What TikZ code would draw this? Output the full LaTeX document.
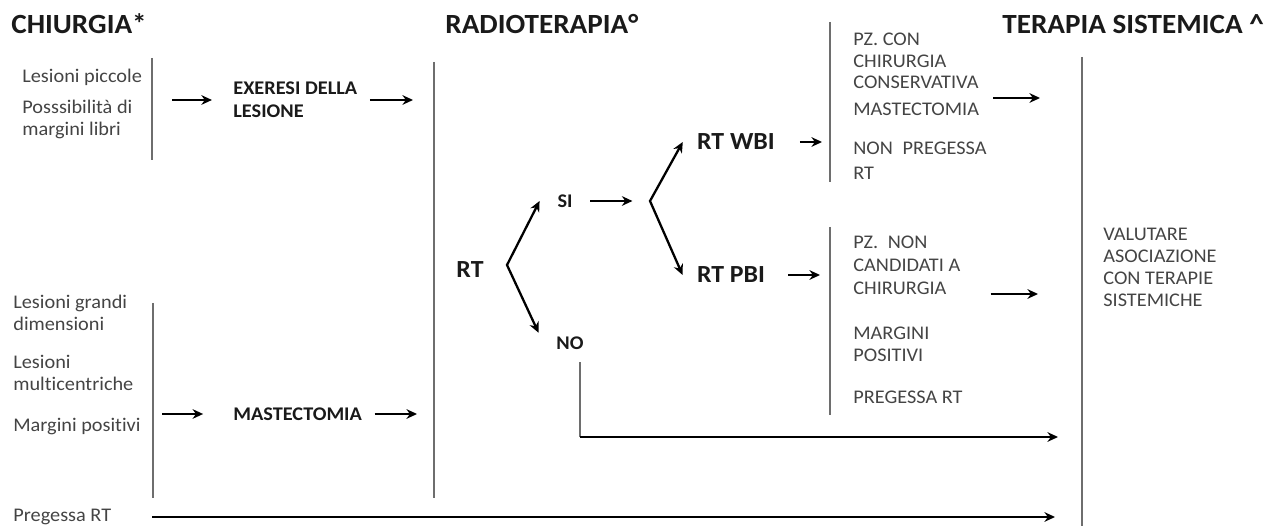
\documentclass[tikz,border=0pt]{standalone}
\usepackage{fontspec}
\setmainfont{Carlito}[FakeStretch=1.05, Ligatures=NoCommon]
\usetikzlibrary{arrows.meta,calc,positioning}

\definecolor{txtgray}{HTML}{444444}
\definecolor{ink}{HTML}{1A1A1A}
\definecolor{bargray}{HTML}{6E6E6E}

\begin{document}
\begin{tikzpicture}[x=0.02cm, y=-0.02cm,
  hdr/.style={anchor=west, inner sep=0pt, text=ink, font=\fontsize{15.8}{18}\selectfont\bfseries},
  txt/.style={anchor=west, inner sep=0pt, align=left, text=txtgray, font=\fontsize{11}{12.5}\selectfont},
  btxt/.style={txt, text=ink, font=\fontsize{11}{13}\selectfont\bfseries},
  choice/.style={inner xsep=10pt, inner ysep=2pt, text=ink, font=\fontsize{11}{13}\selectfont\bfseries},
  rtbox/.style={inner xsep=8pt, inner ysep=2pt, text=ink, font=\fontsize{14}{16}\selectfont\bfseries},
  bar/.style={draw=bargray, line width=0.8pt},
  arr/.style={-{Stealth[length=6pt,width=5.5pt]}, line width=1.3pt},
  biarr/.style={{Stealth[length=6pt,width=5.5pt]}-{Stealth[length=6pt,width=5.5pt]}, line width=1.3pt},
]

  \useasboundingbox (0,0) rectangle (1273,526);

  %-------------------------
  % Column headings
  %-------------------------
  \node[hdr] (chir) at (11,24) {CHIURGIA*};
  \node[hdr] (radio) at (445,24) {RADIOTERAPIA°};
  \node[hdr] (sist) at (1002,24) {TERAPIA SISTEMICA \textasciicircum};

  %-------------------------
  % Surgery column
  %-------------------------
  \node[txt] (lpic) at (22,77) {Lesioni piccole};
  \node[txt] (lposs) at (22,119) {Posssibilità di\\margini libri};
  \node[txt] (lgra) at (13,313) {Lesioni grandi\\dimensioni};
  \node[txt] (lmul) at (13,373) {Lesioni\\multicentriche};
  \node[txt] (lmar) at (13,427) {Margini positivi};
  \node[txt] (lpreg) at (13,517) {Pregessa RT};

  \node[btxt] (exer) at (233,100) {EXERESI DELLA\\LESIONE};
  \node[btxt] (mast) at (233,414) {MASTECTOMIA};

  % brackets
  \draw[bar] (152,58) -- (152,160);
  \draw[bar] (153,303) -- (153,498);
  \draw[bar] (434,62) -- (434,498);

  %-------------------------
  % Radiotherapy column
  %-------------------------
  \node[rtbox] (rt) at (470,270) {RT};
  \node[choice] (si) at (565,201) {SI};
  \node[choice] (no) at (570,343) {NO};
  \node[rtbox] (wbi) at (736,142) {RT WBI};
  \node[rtbox] (pbi) at (731,275) {RT PBI};

  \node[txt] (pzcon) at (853,74) {PZ. CON\\CHIRURGIA\\CONSERVATIVA\\[2.5pt]MASTECTOMIA};
  \node[txt] (nonpr) at (853,161) {NON\enspace PREGESSA\\[1.5pt]RT};
  \node[txt] (pznon) at (853,265) {PZ.\enspace NON\\[0.5pt]CANDIDATI A\\[0.5pt]CHIRURGIA};
  \node[txt] (margp) at (853,344) {MARGINI\\POSITIVI};
  \node[txt] (pregrt) at (853,397) {PREGESSA RT};

  \draw[bar] (830,22) -- (830,182);
  \draw[bar] (830,227) -- (830,415);

  %-------------------------
  % Systemic therapy column
  %-------------------------
  \node[txt] (valut) at (1103,267) {VALUTARE\\ASOCIAZIONE\\CON TERAPIE\\SISTEMICHE};
  \draw[bar] (1082,57) -- (1082,526);

  %-------------------------
  % Arrow ends
  %-------------------------
  \coordinate (inA) at (172,0);
  \coordinate (inB) at (162,0);
  \coordinate (prS) at (152,0);
  \coordinate (toM1) at (413,0);
  \coordinate (toM2) at (417,0);
  \coordinate (toR1) at (822,0);
  \coordinate (toR2) at (820,0);
  \coordinate (toS1) at (1040,98);
  \coordinate (toS2) at (1038,294);
  \coordinate (toS3) at (1058,0);
  \coordinate (toS4) at (1055,0);
  \coordinate (fkA) at (507,265);
  \coordinate (fkB) at (650,201);
  \coordinate (noC) at (580,437);

  % surgery -> radiotherapy
  \draw[arr, shorten >=12pt] (inA |- exer.west) -- (exer.west);
  \draw[arr, shorten <=7pt] (exer.east) -- (exer.east -| toM1);
  \draw[arr, shorten >=17pt] (inB |- mast.west) -- (mast.west);
  \draw[arr, shorten <=7pt] (mast.east) -- (mast.east -| toM2);

  % RT forks
  \draw[biarr] (si.west) -- (fkA) -- (no.north west);
  \draw[arr, shorten >=10pt] (si.east) -- (fkB);
  \draw[biarr] (wbi.west) -- (fkB) -- (pbi.west);
  \draw[arr, shorten <=6pt] (wbi.east) -- (wbi.east -| toR1);
  \draw[arr, shorten <=5pt] (pbi.east) -- (pbi.east -| toR2);

  % into systemic therapy
  \draw[arr, shorten <=8pt] (pzcon.east |- toS1) -- (toS1);
  \draw[arr, shorten <=17pt] (pznon.east |- toS2) -- (toS2);
  \draw[bar, shorten <=5pt] (no.south -| noC) -- (noC);
  \draw[arr] (noC) -- (noC -| toS3);
  \draw[arr] (prS |- lpreg.east) -- (toS4 |- lpreg.east);

\end{tikzpicture}
\end{document}
